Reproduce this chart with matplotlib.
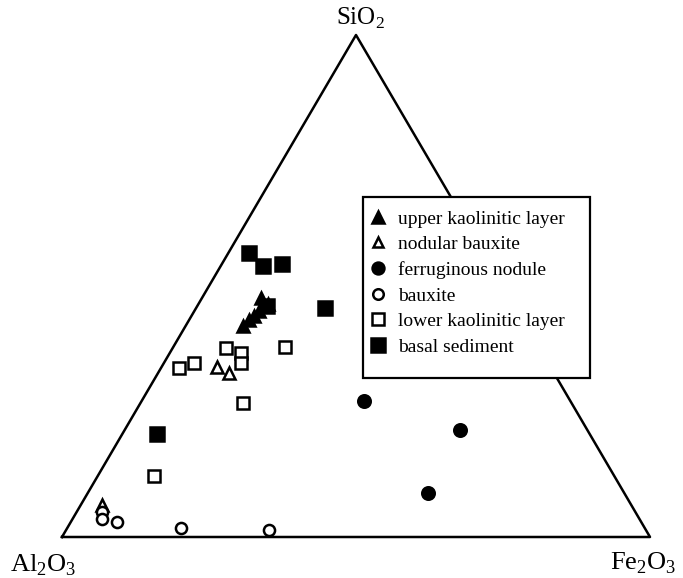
import numpy as np
import matplotlib
matplotlib.use("Agg")
import matplotlib.pyplot as plt
from matplotlib.patches import Rectangle

plt.rcParams['font.family'] = ['Liberation Serif', 'DejaVu Serif']
plt.rcParams['mathtext.fontset'] = 'custom'
plt.rcParams['mathtext.rm'] = 'Liberation Serif'

# compositions (fractions: SiO2, Al2O3, Fe2O3)
upper_si = [0.420, 0.432, 0.440, 0.450, 0.476, 0.460, 0.464]
upper_al = [0.482, 0.466, 0.454, 0.440, 0.424, 0.427, 0.418]
upper_fe = [0.098, 0.102, 0.106, 0.110, 0.100, 0.113, 0.118]

nodular_si = [0.339, 0.327, 0.064]
nodular_al = [0.567, 0.553, 0.900]
nodular_fe = [0.094, 0.120, 0.036]

ferr_si = [0.271, 0.213, 0.088]
ferr_al = [0.351, 0.217, 0.334]
ferr_fe = [0.378, 0.570, 0.578]

baux_si = [0.050, 0.036, 0.030, 0.018, 0.014]
baux_al = [0.907, 0.914, 0.892, 0.789, 0.641]
baux_fe = [0.043, 0.050, 0.078, 0.193, 0.345]

lower_si = [0.337, 0.347, 0.377, 0.367, 0.347, 0.267, 0.379, 0.122]
lower_al = [0.632, 0.602, 0.533, 0.512, 0.522, 0.559, 0.431, 0.783]
lower_fe = [0.031, 0.051, 0.091, 0.121, 0.131, 0.174, 0.190, 0.096]

basal_si = [0.566, 0.540, 0.544, 0.456, 0.205, 0.460]
basal_al = [0.399, 0.388, 0.354, 0.325, 0.736, 0.421]
basal_fe = [0.035, 0.072, 0.102, 0.219, 0.059, 0.119]

H = np.sqrt(3) / 2


def tern(si, al, fe):
	si = np.array(si); al = np.array(al); fe = np.array(fe)
	tot = si + al + fe
	si = si / tot; fe = fe / tot
	return fe + si / 2., si * H


fig = plt.figure(figsize=(6.83, 5.78), dpi=100)
ax = fig.add_axes([62/683., 41/578., 588/683., 502/578.])
ax.set_xlim(0, 1)
ax.set_ylim(0, H)
ax.axis('off')

ax.plot([0, 1, 0.5, 0], [0, 0, H, 0], color='black', lw=1.8, clip_on=False, zorder=1)

groups = [
	(upper_si, upper_al, upper_fe, '^', 'black', 9, "upper kaolinitic layer"),
	(nodular_si, nodular_al, nodular_fe, '^', 'white', 8, "nodular bauxite"),
	(ferr_si, ferr_al, ferr_fe, 'o', 'black', 9, "ferruginous nodule"),
	(baux_si, baux_al, baux_fe, 'o', 'white', 8, "bauxite"),
	(lower_si, lower_al, lower_fe, 's', 'white', 9, "lower kaolinitic layer"),
	(basal_si, basal_al, basal_fe, 's', 'black', 10, "basal sediment"),
]
for si, al, fe, mk, fc, ms, lab in groups:
	x, y = tern(si, al, fe)
	ax.plot(x, y, ls='none', marker=mk, ms=ms, mfc=fc, mec='black', mew=1.8,
		label=lab, clip_on=False, zorder=3)

#legend box: 363..590 px wide, 197..378 px high
box = Rectangle((363/683., 1-378/578.), 227/683., 181/578., transform=fig.transFigure,
	facecolor='white', edgecolor='black', lw=1.6, clip_on=False, zorder=4)
ax.add_patch(box)

leg = ax.legend(loc='upper left', bbox_to_anchor=(368/683., 1-210/578.),
	bbox_transform=fig.transFigure, borderaxespad=0, borderpad=0, fontsize=14,
	frameon=False, labelspacing=0.41, handletextpad=0.55, handlelength=1.0,
	markerscale=0.95)
leg.set_zorder(5)

fig.text(360/683., 1-18/578., r'SiO$_2$', ha='center', va='center', fontsize=18)
fig.text(43/683., 1-565/578., r'Al$_2$O$_3$', ha='center', va='center', fontsize=19)
fig.text(643/683., 1-563/578., r'Fe$_2$O$_3$', ha='center', va='center', fontsize=19)

plt.savefig('out.png', dpi=100)
